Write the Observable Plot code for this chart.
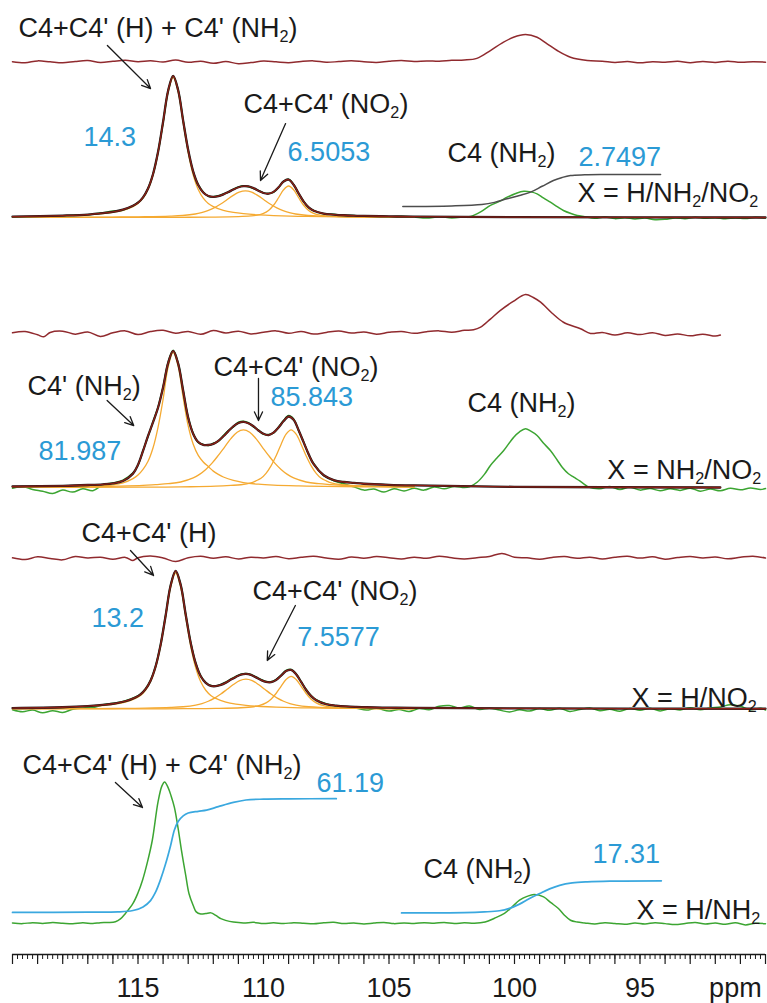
<!DOCTYPE html>
<html><head><meta charset="utf-8">
<script src="https://cdn.jsdelivr.net/npm/d3@7"></script>
<script src="https://cdn.jsdelivr.net/npm/@observablehq/plot@0.6"></script>
<style>html,body{margin:0;padding:0;background:#fff}</style>
</head><body><div id="chart"></div>
<script>
// ---------------- DATA (ppm, intensity in arbitrary units; main peak ~100) ----------------
const tickLabels = [115, 110, 105, 100, 95];
const axisUnit = "ppm";

// Panel 1: X = H/NH2/NO2
const compA1 = [[120,.5],[119,.75],[118,1.1],[117,1.9],[116.4,2.7],[116,3.6],[115.6,5.1],[115.2,7.8],[115,10],[114.8,13.8],[114.6,20],[114.4,30.3],[114.2,46.1],[114,67.4],[113.8,89.5],[113.6,100],[113.4,89.5],[113.2,67.4],[113,46.1],[112.8,30.3],[112.6,20],[112.4,13.8],[112.2,10],[112,7.8],[111.6,5.1],[111.2,3.6],[110.8,2.7],[110.2,1.85],[109.6,1.35],[108.6,.87],[107.6,.6],[106,.37],[104,.25]];
const compB1 = [[120,.12],[116.72,.26],[115.72,.36],[114.72,.55],[113.72,.97],[113.22,1.43],[112.72,2.5],[112.47,3.5],[112.22,4.9],[111.97,6.9],[111.72,9.5],[111.47,12.5],[111.22,15.6],[110.97,18.05],[110.72,19],[110.47,18.05],[110.22,15.6],[109.97,12.5],[109.72,9.5],[109.47,6.9],[109.22,4.9],[108.97,3.5],[108.72,2.5],[108.22,1.43],[107.72,.97],[106.72,.55],[105.72,.36],[104.72,.26],[104,.22]];
const compC1 = [[120,.05],[114,.11],[113,.17],[112,.3],[111,.65],[110.5,1.15],[110.25,1.7],[110,2.95],[109.8,5.06],[109.6,8.75],[109.4,14.1],[109.2,19.8],[109,22.5],[108.8,19.8],[108.6,14.1],[108.4,8.75],[108.2,5.06],[108,2.95],[107.75,1.7],[107.5,1.15],[107,.65],[106,.3],[105,.17],[104,.11]];
const fitP1 = [[120,.6],[118,1.4],[117,2.1],[116.4,3.1],[116,4.0],[115.6,5.6],[115.2,8.4],[115,10.6],[114.8,14.4],[114.6,20.7],[114.4,31.1],[114.2,46.9],[114,68.4],[113.8,90.6],[113.6,101.2],[113.4,90.9],[113.2,69.0],[113,48.2],[112.8,32.8],[112.6,23.2],[112.4,17.9],[112.2,15.4],[112,14.8],[111.8,15.2],[111.6,16.5],[111.4,18.2],[111.2,20.0],[111,21.6],[110.8,22.4],[110.6,22.2],[110.4,21.0],[110.2,19.1],[110,17.5],[109.8,17.0],[109.6,18.3],[109.4,21.6],[109.2,25.7],[109,27.1],[108.8,23.4],[108.6,17.2],[108.4,11.35],[108.2,7.2],[108,4.85],[107.6,2.8],[107.2,2.1],[106.8,1.6],[106.4,1.3],[106,1.1],[105,.8],[104,.6],[100,.3],[90,0]];
const expP1 = [[120,0.3],[119.5,0.6],[119,0.2],[118.5,0.9],[118,1.0],[117.5,1.8],[117,2.0],[116.4,3.4],[116,4.6],[115.6,5.2],[115.2,8.3],[115,10.8],[114.8,14.2],[114.6,20.9],[114.4,31.0],[114.2,47.2],[114,68.0],[113.8,90.2],[113.6,101.0],[113.4,91.2],[113.2,69.4],[113,48.0],[112.8,32.5],[112.6,23.5],[112.4,18.2],[112.2,15.2],[112,14.9],[111.8,15.5],[111.6,16.8],[111.4,18.0],[111.2,20.3],[111,21.8],[110.8,22.6],[110.6,22.0],[110.4,20.7],[110.2,19.3],[110,17.6],[109.8,17.2],[109.6,18.0],[109.4,21.4],[109.2,25.9],[109,27.3],[108.8,23.6],[108.6,17.0],[108.4,11.6],[108.2,7.0],[108,5.1],[107.6,2.6],[107.2,2.3],[106.8,1.4],[106.4,1.5],[106,0.9],[105.5,1.2],[105,0.5],[104.5,0.9],[104,0.3],[103.5,-0.4],[103,0.5],[102.5,-0.3],[102,0.4],[101.75,0.7],[101.35,4.0],[100.96,8.6],[100.6,11.5],[100.29,14.5],[99.95,17.2],[99.63,18.8],[99.35,18.3],[99.1,16.9],[98.85,14.0],[98.57,10.9],[98.3,7.8],[98.05,5.0],[97.75,2.8],[97.5,1.4],[97.2,0.6],[96.8,-0.5],[96.4,0.3],[96,-0.8],[95.6,-0.2],[95.2,-1.0],[94.8,-0.4],[94.4,-1.6],[94,-1.3],[93.6,-0.3],[93.2,-0.9],[92.8,0.2],[92.4,-0.6],[92,-0.1],[91.6,-0.9],[91.2,-0.3],[90.8,-0.7],[90.4,0.1],[90,-0.4]];
const resP1 = [[120,0.2],[119.5,-0.5],[119,0.8],[118.5,0.1],[118,-0.6],[117.5,0.4],[117,1.0],[116.5,-0.3],[116,0.5],[115.5,1.2],[115,0.2],[114.5,0.9],[114,0.0],[113.5,1.4],[113,-0.2],[112.5,0.6],[112,-0.9],[111.5,0.3],[111,-1.2],[110.5,-0.4],[110,0.7],[109.5,0.1],[109,-0.5],[108.5,0.4],[108,0.8],[107.5,-0.2],[107,0.3],[106.5,0.9],[106,0.2],[105.5,-0.3],[105,0.5],[104.5,1.0],[104,0.3],[103.5,0.8],[103,0.5],[102.5,1.2],[102,1.4],[101.5,2.6],[100.96,8.2],[100.5,13.5],[100.04,17.7],[99.56,19.6],[99.1,17.7],[98.7,13.0],[98.3,8.2],[97.77,3.4],[97.1,1.1],[96.5,0.6],[96,-0.4],[95.5,0.3],[95,-0.6],[94.5,0.2],[94,-0.2],[93.5,0.5],[93,-0.5],[92.5,0.4],[92,-0.3],[91.5,0.6],[91,-0.2],[90.5,0.1],[90,-0.1]];
const intP1 = [[104.45,7.9],[102.5,8.3],[101.3,9.3],[100.8,10.8],[100.3,13.4],[99.8,15.7],[99.36,18.1],[98.9,22.3],[98.45,26.4],[98.1,28.6],[97.77,30.0],[97.2,30.5],[96.57,30.7],[94.18,30.7]];

// Panel 2: X = NH2/NO2
const compA2 = [[120,.3],[118,.6],[117,1.0],[116.4,1.4],[116,2.0],[115.6,3.5],[115.2,6.8],[115,9.5],[114.8,13.8],[114.6,20],[114.4,30.3],[114.2,46.1],[114,67.4],[113.8,92],[113.6,103],[113.4,92.5],[113.2,68.5],[113,47],[112.8,33],[112.6,24.5],[112.4,19.5],[112.2,16],[112,12.5],[111.8,10],[111.6,8],[111.2,5.4],[110.8,3.8],[110.2,2.5],[109.6,1.8],[108.6,1.2],[107.6,.8],[106,.55],[104,.35]];
const compB2 = [[120,.5],[116.8,.7],[115.8,1.0],[114.8,1.55],[114.3,2.2],[113.8,2.9],[113.3,4.2],[112.8,7.3],[112.55,10.0],[112.3,13.8],[112.05,18.6],[111.8,24.5],[111.55,30.9],[111.3,37.3],[111.05,42.2],[110.8,44],[110.55,42.2],[110.3,37.3],[110.05,30.9],[109.8,24.5],[109.55,18.6],[109.3,13.8],[109.05,10.0],[108.8,7.3],[108.3,4.2],[107.8,2.9],[107.3,2.2],[106.8,1.55],[105.8,1.0],[104.8,.7],[104,.6]];
const compC2 = [[120,.1],[114.9,.26],[113.9,.35],[112.9,.57],[111.9,1.05],[111.3,1.6],[110.9,2.1],[110.5,3.5],[110.3,5.1],[110.1,7.0],[109.9,10.8],[109.7,16.5],[109.5,24.1],[109.3,32.9],[109.1,40.7],[108.9,44],[108.7,40.7],[108.5,32.9],[108.3,24.1],[108.1,16.5],[107.9,10.8],[107.7,7.0],[107.5,5.1],[107.3,3.5],[106.9,2.1],[106.5,1.6],[105.9,1.05],[104.9,.57],[104,.4]];
const fitP2 = [[120,.75],[118,1.25],[117,1.9],[116.4,2.45],[116,3.2],[115.6,5.0],[115.2,10.6],[115,17.35],[114.8,27.9],[114.6,39.4],[114.4,49.9],[114.2,61.05],[114,76.55],[113.8,95.0],[113.6,104.3],[113.4,94.6],[113.2,73.8],[113,53.25],[112.8,40.9],[112.6,34.7],[112.4,32.55],[112.2,32.45],[112,33.3],[111.8,35.6],[111.6,39.1],[111.4,43.0],[111.2,46.7],[111,49.25],[110.8,50.15],[110.6,49.0],[110.4,46.75],[110.2,43.5],[110,41.0],[109.8,40.05],[109.6,41.9],[109.4,45.8],[109.2,50.7],[109,54.2],[108.8,51.8],[108.6,43.7],[108.4,34.45],[108.2,25.4],[108,17.8],[107.6,9.35],[107.2,5.7],[106.8,4.2],[106.4,3.5],[106,2.85],[105,2.0],[104,1.55],[100,.5],[91.8,0]];
const expP2 = [[120,-0.5],[119.6,0.8],[119.2,-1.5],[118.8,-2.8],[118.4,-4.5],[118,-2.0],[117.6,-3.5],[117.2,-1.0],[116.8,-2.5],[116.4,2.0],[116,3.5],[115.6,5.6],[115.2,11.2],[115,17.0],[114.8,28.3],[114.6,39.0],[114.4,50.4],[114.2,61.5],[114,77.0],[113.8,95.6],[113.6,104.8],[113.4,95.0],[113.2,74.2],[113,53.6],[112.8,41.4],[112.6,34.3],[112.4,32.9],[112.2,32.0],[112,33.8],[111.8,35.2],[111.6,39.6],[111.4,43.4],[111.2,46.3],[111,49.8],[110.8,50.6],[110.6,49.4],[110.4,46.3],[110.2,43.9],[110,40.6],[109.8,40.5],[109.6,41.5],[109.4,46.2],[109.2,51.2],[109,54.9],[108.8,52.4],[108.6,43.2],[108.4,34.9],[108.2,25.0],[108,18.3],[107.6,9.0],[107.2,5.2],[106.8,2.8],[106.4,0.5],[106,-2.0],[105.6,-1.2],[105.2,-3.5],[104.8,-1.0],[104.4,-2.6],[104,-0.6],[103.6,-2.0],[103.2,0.4],[102.8,-1.0],[102.4,0.8],[102,0.0],[101.8,0.5],[101.49,4.0],[101.2,10.0],[100.96,16.8],[100.7,22.5],[100.43,28.2],[100.03,38.4],[99.8,42.5],[99.56,44.8],[99.35,43.0],[99.1,39.7],[98.85,34.0],[98.57,28.2],[98.3,21.0],[98.1,15.5],[97.85,10.5],[97.64,7.9],[97.4,5.0],[97.24,2.8],[97.05,0.3],[96.6,-1.0],[96.2,0.8],[95.8,-1.5],[95.4,0.3],[95,-2.0],[94.6,-0.8],[94.2,-2.5],[93.8,-1.0],[93.4,-2.2],[93,-0.5],[92.6,-2.8],[92.2,-1.2],[91.8,-2.5],[91.4,-0.6],[91,-1.8],[90.6,-0.4],[90.2,-1.5],[90,-0.8]];
const resP2 = [[120,0.5],[119.5,1.5],[119,-1.0],[118.75,-2.5],[118.5,0.8],[118,1.8],[117.5,-0.5],[117,1.2],[116.5,-2.2],[116,0.5],[115.5,2.0],[115,-0.8],[114.5,1.5],[114,2.4],[113.5,0.2],[113,1.6],[112.5,-0.6],[112,2.2],[111.5,0.4],[111,1.8],[110.5,-0.3],[110,1.0],[109.5,2.0],[109,0.2],[108.5,1.5],[108,-0.4],[107.5,0.8],[107,1.9],[106.5,0.3],[106,1.2],[105.5,-0.5],[105,0.9],[104.5,1.6],[104,0.1],[103.5,1.4],[103,2.0],[102.5,1.0],[102,2.4],[101.63,2.8],[101.35,4.8],[100.96,11],[100.56,17.6],[100.05,24.5],[99.56,29.8],[99.25,27.5],[98.96,23.9],[98.5,15.5],[98.05,8.6],[97.37,3.6],[96.97,0.0],[96.5,0.8],[96,-1.2],[95.5,0.5],[95,-0.8],[94.5,0.6],[94,-1.5],[93.5,-0.3],[93,-1.8],[92.5,-0.5],[92,-2.0],[91.8,-1.2]];

// Panel 3: X = H/NO2
const compA3 = [[120,.5],[119,.7],[118,1.05],[116.9,1.9],[116.3,2.7],[115.9,3.6],[115.5,5.1],[115.1,7.8],[114.9,10],[114.7,13.8],[114.5,20],[114.3,30.3],[114.1,46.1],[113.9,67.4],[113.7,89.5],[113.5,100],[113.3,89.5],[113.1,67.4],[112.9,46.1],[112.7,30.3],[112.5,20],[112.3,13.8],[112.1,10],[111.9,7.8],[111.5,5.1],[111.1,3.6],[110.7,2.7],[110.1,1.85],[109.5,1.35],[108.5,.87],[107.5,.6],[105.9,.37],[104,.25]];
const compB3 = [[120,.14],[116.7,.3],[115.7,.42],[114.7,.64],[113.7,1.12],[113.2,1.66],[112.7,2.9],[112.45,4.0],[112.2,5.7],[111.95,8.0],[111.7,11],[111.45,14.5],[111.2,18.0],[110.95,20.9],[110.7,22],[110.45,20.9],[110.2,18.0],[109.95,14.5],[109.7,11],[109.45,8.0],[109.2,5.7],[108.95,4.0],[108.7,2.9],[108.2,1.66],[107.7,1.12],[106.7,.64],[105.7,.42],[104.7,.3],[104,.26]];
const compC3 = [[120,.05],[113.9,.16],[112.9,.24],[111.9,.43],[110.9,.91],[110.4,1.65],[110.15,2.6],[109.9,4.5],[109.7,7.2],[109.5,11.4],[109.3,16.7],[109.1,21.7],[108.9,24],[108.7,21.7],[108.5,16.7],[108.3,11.4],[108.1,7.2],[107.9,4.5],[107.65,2.6],[107.4,1.65],[106.9,.91],[105.9,.43],[104.9,.24],[104,.17]];
const fitP3 = [[120,.7],[118,1.3],[117,2.1],[116.3,3.15],[115.9,4.1],[115.5,5.7],[115.1,8.5],[114.9,10.7],[114.7,14.6],[114.5,20.85],[114.3,31.25],[114.1,47.15],[113.9,68.6],[113.7,90.8],[113.5,101.5],[113.3,91.3],[113.1,69.5],[112.9,48.6],[112.7,33.5],[112.5,24.05],[112.3,19.2],[112.1,17.0],[111.9,16.8],[111.7,17.7],[111.5,19.4],[111.3,21.6],[111.1,23.6],[110.9,25.3],[110.7,25.8],[110.5,25.15],[110.3,23.25],[110.1,21.35],[109.9,19.9],[109.7,19.7],[109.5,21.35],[109.3,24.5],[109.1,27.9],[108.9,28.7],[108.7,25.55],[108.5,19.9],[108.3,14.0],[108.1,9.5],[107.9,6.5],[107.5,3.5],[107.1,2.5],[106.7,1.9],[106.3,1.55],[105.9,1.3],[105,1.0],[104,.8],[100,.4],[90,.2]];
const expP3 = [[120,-0.5],[119.6,-2.0],[119.2,-0.8],[118.8,-2.8],[118.4,-1.2],[118,-2.5],[117.6,-0.2],[117.2,0.8],[116.8,1.0],[116.3,3.5],[115.9,4.5],[115.5,6.0],[115.1,8.8],[114.9,11.0],[114.7,14.9],[114.5,21.2],[114.3,31.5],[114.1,47.6],[113.9,69.0],[113.7,91.2],[113.5,101.3],[113.3,91.6],[113.1,69.8],[112.9,49.0],[112.7,33.9],[112.5,24.4],[112.3,19.5],[112.1,17.3],[111.9,17.0],[111.7,18.0],[111.5,19.8],[111.3,21.9],[111.1,24.0],[110.9,25.6],[110.7,26.1],[110.5,25.4],[110.3,23.6],[110.1,21.7],[109.9,20.2],[109.7,20.0],[109.5,21.6],[109.3,24.8],[109.1,28.3],[108.9,29.1],[108.7,25.9],[108.5,20.2],[108.3,14.3],[108.1,9.8],[107.9,6.8],[107.5,3.8],[107.1,2.2],[106.7,1.5],[106.3,0.6],[105.9,-0.8],[105.5,0.5],[105,-1.5],[104.6,-0.3],[104.2,-1.8],[103.8,0.4],[103.4,-0.6],[103,2.0],[102.6,2.6],[102.2,0.8],[101.8,2.2],[101.4,-0.3],[101,0.6],[100.6,-0.8],[100.2,-2.2],[99.8,-0.6],[99.4,-1.5],[99,0.3],[98.6,-1.0],[98.2,0.5],[97.8,-1.8],[97.4,-0.4],[97,0.8],[96.6,-1.2],[96.2,-0.2],[95.8,-1.6],[95.4,0.4],[95,-0.9],[94.6,0.6],[94.2,-1.4],[93.8,0.2],[93.4,-0.7],[93,1.0],[92.6,-0.5],[92.2,0.8],[91.8,1.5],[91.4,3.2],[91,2.0],[90.6,-0.5],[90.2,0.6],[90,-0.8]];
const resP3 = [[120,0.5],[119.5,-0.8],[119,1.2],[118.5,0.0],[118,-1.0],[117.5,1.5],[117,0.3],[116.5,1.0],[116,-0.5],[115.5,0.8],[115.2,-1.5],[115,0.6],[114.5,1.8],[114,0.4],[113.5,-2.2],[113,0.5],[112.5,1.6],[112,0.2],[111.5,1.3],[111,-0.4],[110.5,1.0],[110,0.3],[109.5,1.5],[109,-0.2],[108.5,0.9],[108,1.6],[107.5,0.4],[107,-0.6],[106.5,1.1],[106,0.2],[105.5,1.4],[105,0.6],[104.5,-0.4],[104,1.0],[103.5,0.2],[103,1.7],[102.5,0.5],[102,-0.3],[101.5,0.6],[101,1.5],[100.5,3.7],[100,1.0],[99.5,0.5],[99,-0.6],[98.5,0.8],[98,1.4],[97.5,0.2],[97,1.0],[96.5,-0.4],[96,0.9],[95.5,1.6],[95,0.3],[94.5,1.2],[94,-0.5],[93.5,0.7],[93,1.5],[92.5,0.4],[92,1.1],[91.5,-0.2],[91,0.9],[90.5,1.7],[90,0.3]];

// Panel 4: X = H/NH2 (no fit)
const expP4 = [[120,0.2],[119.6,-0.3],[119.2,0.4],[118.8,-0.2],[118.4,0.5],[118,0.0],[117.6,-0.4],[117.2,0.3],[116.8,-0.2],[116.5,0.4],[116.2,0.5],[115.9,1.0],[115.7,3.0],[115.5,6.9],[115.2,14],[115,21.5],[114.82,30.4],[114.6,45],[114.43,58.7],[114.2,86],[114.05,97],[113.94,100],[113.8,96],[113.68,90],[113.55,82],[113.4,67],[113.27,51.7],[113.1,34],[112.97,21],[112.8,12.5],[112.68,8],[112.5,6.5],[112.3,6.8],[112.09,7.3],[111.9,5.5],[111.7,3.2],[111.51,2],[111.2,0.8],[110.8,0.2],[110.4,0.6],[110,-0.2],[109.6,0.3],[109.2,-0.3],[108.8,0.4],[108.4,0.0],[108,-0.4],[107.6,0.3],[107.2,0.6],[106.8,-0.2],[106.4,0.2],[106,-0.5],[105.6,0.1],[105.2,0.5],[104.8,-0.3],[104.4,0.2],[104,-0.2],[103.6,0.4],[103.2,0.0],[102.8,0.5],[102.4,-0.2],[102,0.3],[101.6,-0.1],[101.17,0.8],[100.8,3.5],[100.4,7],[100.1,11.5],[99.8,16.3],[99.5,19],[99.22,20.3],[98.84,18.6],[98.55,14.5],[98.25,10.4],[98.0,5.5],[97.77,2.1],[97.5,0.8],[97.2,0.2],[96.8,-0.5],[96.4,0.3],[96,-0.2],[95.6,-0.8],[95.2,0.1],[94.8,-0.6],[94.4,0.4],[94,-0.3],[93.6,-1.0],[93.2,-0.2],[92.8,0.5],[92.4,-0.6],[92,0.1],[91.6,-0.8],[91.2,0.3],[90.8,-1.2],[90.4,0.0],[90,-0.4]];
const intP4a = [[120,7.6],[117,7.8],[115.8,8.0],[115.2,9.0],[114.8,11.5],[114.5,16],[114.3,22],[114.1,31],[113.9,42],[113.7,55],[113.55,66],[113.4,72],[113.2,76],[113,78],[112.6,79.2],[112.27,80],[111.8,82.5],[111.2,85.5],[110.7,87.2],[110,87.8],[109,88],[107.1,88.1]];
const intP4b = [[104.5,7.3],[102,7.5],[101.2,8.0],[100.6,8.8],[100.2,10.5],[99.8,13.5],[99.4,17.5],[99.0,21],[98.6,24.3],[98.2,26.8],[97.7,28.5],[97.1,29.3],[96.2,29.8],[94.15,30]];

// Annotation texts
const integralValues = ["14.3", "6.5053", "2.7497", "81.987", "85.843", "13.2", "7.5577", "61.19", "17.31"];

// ---------------- LAYOUT / STYLE ----------------
const W = 767, H = 1003, AXIS_Y = 954;
const FONT = "'Liberation Sans', Arial, Helvetica, sans-serif";
const FS = 27;
const C = {green: "#3ca532", orange: "#f5aa32", black: "#1a1a1a", red: "#8c1e16", res: "#902a2e", blue: "#2b9ad5", blueLine: "#3aa8df", grey: "#4d4d4d"};

const P1 = {base: 217, k: 1.40, resBase: 61.5};
const P2 = {base: 487, k: 1.31, resBase: 333};
const P3 = {base: 708.5, k: 1.36, resBase: 558};
const P4 = {base: 922.7, k: 1.413};

const yOf = (p, v, res = false) => AXIS_Y - (res ? p.resBase : p.base) + v * p.k;

const labels = [
  {p: P1, x: 119.76, v: 135, t: "C4+C4' (H) + C4' (NH₂)", c: "black"},
  {p: P1, x: 117.17, v: 57.5, t: integralValues[0], c: "blue"},
  {p: P1, x: 110.8, v: 80.7, t: "C4+C4' (NO₂)", c: "black"},
  {p: P1, x: 109.04, v: 46.8, t: integralValues[1], c: "blue"},
  {p: P1, x: 102.67, v: 45.7, t: "C4 (NH₂)", c: "black"},
  {p: P1, x: 97.45, v: 42.9, t: integralValues[2], c: "blue"},
  {p: P1, x: 97.49, v: 17.1, t: "X = H/NH₂/NO₂", c: "black"},
  {p: P2, x: 119.4, v: 77.1, t: "C4' (NH₂)", c: "black"},
  {p: P2, x: 118.96, v: 27.5, t: integralValues[3], c: "blue"},
  {p: P2, x: 111.99, v: 91.6, t: "C4+C4' (NO₂)", c: "black"},
  {p: P2, x: 109.72, v: 68.7, t: integralValues[4], c: "blue"},
  {p: P2, x: 101.87, v: 64.1, t: "C4 (NH₂)", c: "black"},
  {p: P2, x: 96.3, v: 13, t: "X = NH₂/NO₂", c: "black"},
  {p: P3, x: 117.25, v: 129, t: "C4+C4' (H)", c: "black"},
  {p: P3, x: 116.85, v: 66.5, t: integralValues[5], c: "blue"},
  {p: P3, x: 110.44, v: 86.4, t: "C4+C4' (NO₂)", c: "black"},
  {p: P3, x: 108.66, v: 52.6, t: integralValues[6], c: "blue"},
  {p: P3, x: 95.34, v: 7.7, t: "X = H/NO₂", c: "black"},
  {p: P4, x: 119.6, v: 111.6, t: "C4+C4' (H) + C4' (NH₂)", c: "black"},
  {p: P4, x: 107.89, v: 98.9, t: integralValues[7], c: "blue"},
  {p: P4, x: 103.63, v: 38, t: "C4 (NH₂)", c: "black"},
  {p: P4, x: 96.89, v: 48.6, t: integralValues[8], c: "blue"},
  {p: P4, x: 95.14, v: 9, t: "X = H/NH₂", c: "black"}
];
const arrows = [
  {p: P1, x1: 116.22, v1: 122.9, x2: 114.5, v2: 92.1},
  {p: P1, x1: 109.12, v1: 67.1, x2: 110.12, v2: 26.4},
  {p: P2, x1: 116.23, v1: 66.4, x2: 115.17, v2: 47.3},
  {p: P2, x1: 110.2, v1: 83.2, x2: 110.2, v2: 51.1},
  {p: P3, x1: 115.3, v1: 116.5, x2: 114.38, v2: 98.2},
  {p: P3, x1: 108.73, v1: 76.1, x2: 109.85, v2: 35.7},
  {p: P4, x1: 115.9, v1: 99.6, x2: 114.82, v2: 81.9}
];

const fitPanels = [
  {p: P1, comps: [compA1, compB1, compC1], fit: fitP1, exp: expP1, res: resP1},
  {p: P2, comps: [compA2, compB2, compC2], fit: fitP2, exp: expP2, res: resP2},
  {p: P3, comps: [compA3, compB3, compC3], fit: fitP3, exp: expP3, res: resP3}
];

function curve(data, p, stroke, strokeWidth, res = false) {
  return Plot.line(data, {x: d => d[0], y: d => yOf(p, d[1], res), stroke, strokeWidth, curve: "catmull-rom", strokeLinejoin: "round"});
}

const marks = [];
for (const f of fitPanels) marks.push(curve(f.exp, f.p, C.green, 1.5));
marks.push(curve(expP4, P4, C.green, 1.5));
for (const f of fitPanels) for (const c of f.comps) marks.push(curve(c, f.p, C.orange, 1.3));
for (const f of fitPanels) {
  marks.push(curve(f.fit, f.p, C.black, 2.3));
  marks.push(curve(f.fit, f.p, C.red, 1.3));
  marks.push(curve(f.res, f.p, C.res, 1.5, true));
}
marks.push(curve(intP1, P1, C.grey, 1.5));
marks.push(curve(intP4a, P4, C.blueLine, 1.7));
marks.push(curve(intP4b, P4, C.blueLine, 1.7));

marks.push(Plot.arrow(arrows, {x1: "x1", y1: d => yOf(d.p, d.v1), x2: "x2", y2: d => yOf(d.p, d.v2), stroke: C.black, strokeWidth: 1.3, headLength: 11, headAngle: 50}));
for (const [key, col] of [["black", C.black], ["blue", C.blue]]) {
  marks.push(Plot.text(labels.filter(l => l.c === key), {x: "x", y: d => yOf(d.p, d.v), text: "t", fill: col, textAnchor: "start", lineAnchor: "middle", fontSize: FS, fontFamily: FONT}));
}

// x axis
const minorTicks = d3.range(90, 120.0001, 0.2).map(v => Math.round(v * 10) / 10);
const majorTicks = d3.range(90, 121, 1);
marks.push(Plot.ruleY([0], {stroke: C.black, strokeWidth: 1.5}));
marks.push(Plot.axisX({ticks: minorTicks, tickSize: 5, tickFormat: () => "", label: null, strokeWidth: 1}));
marks.push(Plot.axisX({ticks: majorTicks, tickSize: 10, tickPadding: 13, tickFormat: d => tickLabels.includes(d) ? String(d) : "", label: null, fontSize: FS, fontFamily: FONT, strokeWidth: 1.2}));
marks.push(Plot.axisX({ticks: [91.2], tickSize: 0, tickPadding: 23, tickFormat: () => axisUnit, label: null, fontSize: FS, fontFamily: FONT}));

const chart = Plot.plot({
  width: W, height: H,
  marginLeft: 12, marginRight: 2, marginTop: 0, marginBottom: H - AXIS_Y,
  x: {domain: [120, 90], range: [12, 765]},
  y: {domain: [0, AXIS_Y], range: [AXIS_Y, 0], axis: null},
  style: {fontFamily: FONT, background: "#fff", color: C.black, overflow: "visible"},
  marks
});

// render subscript "₂" as a smaller lowered 2
const NS = "http://www.w3.org/2000/svg";
chart.querySelectorAll("text").forEach(t => {
  const s = t.textContent;
  if (!s.includes("₂")) return;
  const parts = s.split("₂");
  while (t.firstChild) t.removeChild(t.firstChild);
  parts.forEach((part, i) => {
    if (i > 0) {
      const sub = document.createElementNS(NS, "tspan");
      sub.setAttribute("font-size", "0.6em");
      sub.setAttribute("dy", "5");
      sub.textContent = "2";
      t.appendChild(sub);
    }
    if (part) {
      const ts = document.createElementNS(NS, "tspan");
      if (i > 0) ts.setAttribute("dy", "-5");
      ts.textContent = part;
      t.appendChild(ts);
    }
  });
});
document.getElementById("chart").appendChild(chart);
</script></body></html>
